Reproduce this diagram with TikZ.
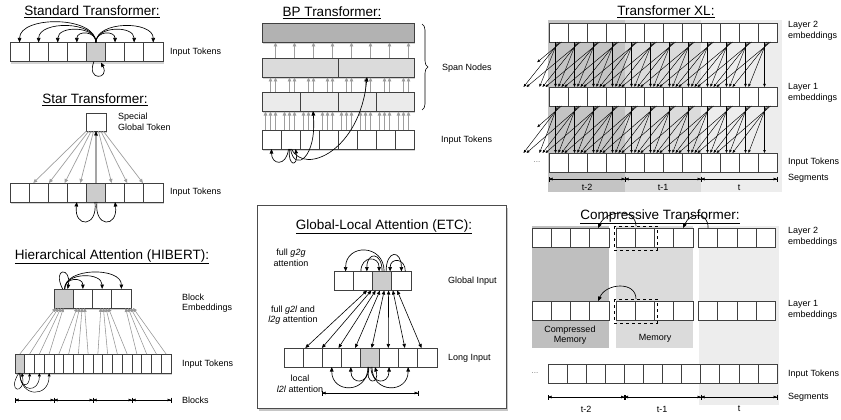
\documentclass[tikz,border=0pt]{standalone}
\usepackage{fontspec}
\setmainfont{Liberation Sans}
\usetikzlibrary{shadows,arrows.meta,decorations.pathreplacing,calc}
\tikzset{
 cell/.style={draw=black!75, line width=0.6pt, fill=white, minimum width=#1, minimum height=19pt, inner sep=0pt, outer sep=0pt},
 cell/.default=19.1pt,
 ttl/.style={font=\fontsize{13.5}{16}\selectfont, inner sep=0pt},
 lbl/.style={font=\fontsize{9}{10.5}\selectfont, align=left, anchor=west, inner sep=0pt},
 ctr/.style={font=\fontsize{9}{10.5}\selectfont, align=center, inner sep=0pt},
 att/.style={-{Triangle[length=4.5pt,width=3.6pt]}, line width=0.65pt, black},
 satt/.style={-{Triangle[length=3.4pt,width=2.8pt]}, line width=0.5pt, black},
 xlarr/.style={-{Triangle[length=3pt,width=2.4pt]}, line width=0.45pt, black},
 gatt/.style={-{Triangle[length=4pt,width=3.6pt]}, line width=0.7pt, black!38},
 tgatt/.style={-{Triangle[length=3.8pt,width=3.6pt]}, line width=0.55pt, black!42},
 bidir/.style={{Triangle[length=4pt,width=3.4pt]}-{Triangle[length=4pt,width=3.4pt]}, line width=0.6pt, black},
 segbar/.style={{Bar[width=5pt]}-{Bar[width=5pt]}, line width=0.5pt},
 segtip/.style={{Triangle[length=3.5pt,width=2.6pt]}-{Triangle[length=3.5pt,width=2.6pt]}, line width=0.5pt},
 shad/.style={drop shadow={shadow xshift=0.6pt, shadow yshift=-2pt, opacity=0.35}},
 dots/.style={font=\fontsize{8}{9}\selectfont, text=black!55, inner sep=0pt},
}
\begin{document}
\begin{tikzpicture}[x=1pt,y=-1pt]
\useasboundingbox (0,0) rectangle (841,420);

% ================= Standard Transformer =================
\node[ttl] (tstd) at (92,12) {\underline{Standard Transformer:}};
\path[fill=white,shad] (10,42) rectangle (163,62);
\foreach \i in {0,...,7} {
  \ifnum\i=4 \def\fc{black!20}\else\def\fc{white}\fi
  \node[cell, fill=\fc] (s\i) at ({10+19.1*(\i+0.5)},52) {};
}
\node[lbl] (lstd) at (170,52) {Input Tokens};
\foreach \k/\h in {0/27,1/22,2/17,3/12,5/12,6/17,7/22}
  \draw[att] (s4.north) .. controls ($(s4.north)+(0,-\h)$) and ($(s\k.north)+(0,-\h)$) .. (s\k.north);
\draw[att] ($(s4.south)+(-2,0)$) .. controls ($(s4.south)+(-10,20)$) and ($(s4.south)+(14,18)$) .. ($(s4.south)+(5,1)$);

% ================= Star Transformer =================
\node[ttl] (tstar) at (95,100) {\underline{Star Transformer:}};
\node[cell, minimum width=20pt, minimum height=18pt, shad] (sg) at (96,122) {};
\node[lbl] (lsg) at (118,122) {Special\\Global Token};
\path[fill=white,shad] (10,183) rectangle (163,202);
\foreach \i in {0,...,7} {
  \ifnum\i=4 \def\fc{black!20}\else\def\fc{white}\fi
  \node[cell, fill=\fc] (r\i) at ({10+19.1*(\i+0.5)},192.5) {};
}
\node[lbl] (lstar) at (170,192.5) {Input Tokens};
\foreach \k in {0,1,2,3,5,6,7}
  \draw[gatt] ($(sg.south)+({(\k-4)*2.4},0)$) -- ($(r\k.north)+({(4-\k)*19.1*0.18},0)$);
\draw[att] (r4.north) -- (sg.south);
\draw[att] ($(r4.south)+(-1,0)$) .. controls ($(r4.south)+(2,26)$) and ($(r3.south)+(-3,26)$) .. (r3.south);
\draw[att] ($(r4.south)+(1,0)$) .. controls ($(r4.south)+(-2,26)$) and ($(r5.south)+(3,26)$) .. (r5.south);

% ================= HIBERT =================
\node[ttl] (thib) at (112,257) {\underline{Hierarchical Attention (HIBERT):}};
\path[fill=white,shad] (54,289) rectangle (131,308);
\foreach \i in {0,...,3} {
  \ifnum\i=0 \def\fc{black!20}\else\def\fc{white}\fi
  \node[cell=19.25pt, fill=\fc] (hb\i) at ({54+19.25*(\i+0.5)},298.5) {};
}
\node[lbl] (lhb) at (182,303) {Block\\Embeddings};
\path[fill=white,shad] (15,354) rectangle (171,373);
\foreach \i in {0,...,15} {
  \ifnum\i=0 \def\fc{black!20}\else\def\fc{white}\fi
  \node[cell=9.75pt, fill=\fc] (ht\i) at ({15+9.75*(\i+0.5)},363.5) {};
}
\node[lbl] (lht) at (182,364) {Input Tokens};
\foreach \b/\s in {0/-4,1/-2,2/2.5,3/8}
  \foreach \t in {0,...,3} {
    \pgfmathtruncatemacro\ii{4*\b+\t}
    \draw[tgatt] (ht\ii.north) -- ($(hb\b.south)+({\s+(\t-1.5)*2.5},0)$);
  }
\foreach \k/\h in {1/12,2/17,3/22}
  \draw[att] ($(hb0.north)+(1,0)$) .. controls ($(hb0.north)+(1,-\h)$) and ($(hb\k.north)+(0,-\h)$) .. (hb\k.north);
\draw[att] ($(hb0.north)+(-1,0)$) .. controls ($(hb0.north)+(-12,-22)$) and ($(hb0.north)+(8,-22)$) .. ($(hb0.north)+(4,0)$);
\foreach \k/\h in {1/15,2/20,3/25}
  \draw[satt] (ht0.south) .. controls ($(ht0.south)+(0,\h)$) and ($(ht\k.south)+(0,\h)$) .. (ht\k.south);
\draw[satt] ($(ht0.south)+(-1,0)$) .. controls ($(ht0.south)+(-14,20)$) and ($(ht0.south)+(6,22)$) .. ($(ht0.south)+(2,0)$);
\foreach \b in {0,...,4} \coordinate (hq\b) at ({15+39*\b},400);
\foreach \b [evaluate=\b as \c using int(\b+1)] in {0,...,3} {
  \draw[segbar] (hq\b) -- (hq\c);
  \draw[segtip] (hq\b) -- (hq\c);
}
\node[lbl] (lblocks) at (182,400) {Blocks};

% ================= BP Transformer =================
\node[ttl] (tbp) at (332,13) {\underline{BP Transformer:}};
\path[fill=white,shad] (262,23) rectangle (414,42);
\path[fill=white,shad] (262,58) rectangle (414,77);
\path[fill=white,shad] (262,92) rectangle (414,111);
\path[fill=white,shad] (262,130) rectangle (414,149);
\node[cell=152pt, fill=black!30] (bpA) at (338,32.5) {};
\foreach \i in {0,1} \node[cell=76pt, fill=black!14] (bpB\i) at ({262+76*(\i+0.5)},67.5) {};
\foreach \i in {0,...,3} \node[cell=38pt, fill=black!8] (bpC\i) at ({262+38*(\i+0.5)},101.5) {};
\foreach \i in {0,...,7} \node[cell=19pt] (bpI\i) at ({262+19*(\i+0.5)},139.5) {};
\foreach \i in {0,...,7} {
  \foreach \o in {-6,-1,4} \draw[gatt] ($(bpI\i.north)+(\o,0)$) -- ($(bpI\i.north)+(\o,-18.5)$);
  \foreach \o in {-1,4} \draw[gatt] ($(bpI\i.north)+(\o,-38)$) -- ($(bpI\i.north)+(\o,-52.5)$);
  \draw[gatt] ($(bpI\i.north)+(4,-72)$) -- ($(bpI\i.north)+(4,-87.5)$);
}
\draw[decorate, decoration={brace, amplitude=6pt}, line width=0.6pt] (422,24) -- (422,110);
\node[lbl] (lspan) at (442,68) {Span Nodes};
\node[lbl] (lbpin) at (441,140) {Input Tokens};
\draw[att] ($(bpI1.south)+(-2,0)$) .. controls ($(bpI1.south)+(-4,18)$) and ($(bpI0.south)+(0,16)$) .. (bpI0.south);
\draw[att] ($(bpI1.south)+(-1,0)$) .. controls ($(bpI1.south)+(-3,18)$) and ($(bpI1.south)+(8,18)$) .. ($(bpI1.south)+(5,0)$);
\draw[att] (bpI1.south) .. controls ($(bpI1.south)+(4,24)$) and (317,158) .. ($(bpC1.south)+(-6,0)$);
\draw[att] ($(bpI1.south)+(1,0)$) .. controls (305,176) and (360,150) .. ($(bpB1.south)+(-9,0)$);

% ================= ETC =================
\path[fill=white, draw=black!70, line width=0.6pt, drop shadow={shadow xshift=1.5pt,shadow yshift=-2.5pt,opacity=0.45}] (257,205) rectangle (506,408);
\node[ttl] (tetc) at (384,227) {\underline{Global-Local Attention (ETC):}};
\node[ctr] (lg2g) at (291,258) {full \textit{g2g}\\attention};
\foreach \i in {0,...,3} {
  \ifnum\i=2 \def\fc{black!20}\else\def\fc{white}\fi
  \node[cell=19.25pt, fill=\fc] (eg\i) at ({334+19.25*(\i+0.5)},281) {};
}
\node[lbl] (lgi) at (448,281) {Global Input};
\node[ctr] (lg2l) at (293,315) {full \textit{g2l} and\\\textit{l2g} attention};
\foreach \i in {0,...,7} {
  \ifnum\i=4 \def\fc{black!20}\else\def\fc{white}\fi
  \node[cell, fill=\fc] (el\i) at ({284+19.1*(\i+0.5)},357.5) {};
}
\node[lbl] (lli) at (448,358) {Long Input};
\foreach \i in {0,...,7}
  \draw[bidir] ($(eg2.south)+({(\i-3.5)*4.3},0)$) -- ($(el\i.north)+({(3.5-\i)*2.5+3},0)$);
\draw[att] ($(eg2.north)+(2,0)$) .. controls ($(eg2.north)+(2,-28)$) and ($(eg0.north)+(2,-28)$) .. ($(eg0.north)+(2,0)$);
\draw[att] ($(eg2.north)+(0,0)$) .. controls ($(eg2.north)+(0,-20)$) and ($(eg1.north)+(4,-20)$) .. ($(eg1.north)+(4,0)$);
\draw[att] ($(eg1.north)+(-2,0)$) .. controls ($(eg1.north)+(-2,-16)$) and ($(eg2.north)+(-3,-16)$) .. ($(eg2.north)+(-3,0)$);
\draw[att] ($(eg2.north)+(4,0)$) .. controls ($(eg2.north)+(4,-22)$) and ($(eg3.north)+(0,-22)$) .. (eg3.north);
\draw[att] ($(eg3.north)+(4,0)$) .. controls ($(eg3.north)+(4,-14)$) and ($(eg2.north)+(8,-14)$) .. ($(eg2.north)+(8,0)$);
\foreach \k/\h/\s in {2/27/-2,3/18/-1,5/18/1,6/27/2}
  \draw[att] ($(el4.south)+(\s,0)$) .. controls ($(el4.south)+(\s,\h)$) and ($(el\k.south)+(0,\h)$) .. (el\k.south);
\draw[att] ($(el4.south)+(-1,0)$) .. controls ($(el4.south)+(-6,18)$) and ($(el4.south)+(10,18)$) .. ($(el4.south)+(5,0)$);
\node[ctr] (ll2l) at (300,384) {local\\\textit{l2l} attention};
\coordinate (er0) at (322,393);
\coordinate (er1) at (418,393);
\draw[segbar] (er0) -- (er1);
\draw[segtip] (er0) -- (er1);

% ================= Transformer XL =================
\fill[black!23] (548,20) rectangle (625,192);
\fill[black!14] (625,20) rectangle (701,192);
\fill[black!7] (701,20) rectangle (782,192);
\node[ttl] (txl) at (666,12) {\underline{Transformer XL:}};
\foreach \i in {0,...,11} {
  \node[cell=19pt] (x2-\i) at ({549+19*(\i+0.5)},32.5) {};
  \node[cell=19pt] (x1-\i) at ({549+19*(\i+0.5)},96.5) {};
  \node[cell=19pt] (xi-\i) at ({549+19*(\i+0.5)},162.5) {};
}
\foreach \j in {0,...,11}
  \foreach \d in {0,...,3} {
    \pgfmathsetmacro\fr{(\j==0 && \d==3) ? 0.45 : 1}
    \coordinate (srA) at ($(x2-\j.south)+({2*\d-3},0)$);
    \coordinate (srB) at ($(x1-\j.south)+({2*\d-3},0)$);
    \coordinate (tgA) at ($(x1-0.north)+({19*(\j-\d)+3*\d-3},0)$);
    \coordinate (tgB) at ($(xi-0.north)+({19*(\j-\d)+3*\d-3},0)$);
    \draw[xlarr] (srA) -- ($(srA)!\fr!(tgA)$);
    \draw[xlarr] (srB) -- ($(srB)!\fr!(tgB)$);
  }
\node[dots] (xdots) at (537,162) {...};
\node[lbl] (lx2) at (788,31) {Layer 2\\embeddings};
\node[lbl] (lx1) at (788,93) {Layer 1\\embeddings};
\node[lbl] (lxi) at (788,162) {Input Tokens};
\node[lbl] (lxs) at (788,178) {Segments};
\foreach \b/\x in {0/549,1/625,2/701,3/777} \coordinate (xs\b) at (\x,179);
\foreach \b [evaluate=\b as \c using int(\b+1)] in {0,1,2} {
  \draw[segbar] (xs\b) -- (xs\c);
  \draw[segtip] (xs\b) -- (xs\c);
}
\node[ctr] (xt0) at (587,187.5) {t-2};
\node[ctr] (xt1) at (663,187.5) {t-1};
\node[ctr] (xt2) at (739,187.5) {t};

% ================= Compressive Transformer =================
\fill[black!25] (532,226) rectangle (609,348);
\fill[black!14] (616,226) rectangle (693,348);
\fill[black!7] (699,226) rectangle (779,405);
\node[ttl] (tcomp) at (660,217) {\underline{Compressive Transformer:}};
\foreach \i in {0,...,3} {
  \node[cell=19.2pt] (ca2-\i) at ({532+19.2*(\i+0.5)},237.5) {};
  \node[cell=19.2pt] (cb2-\i) at ({616+19.2*(\i+0.5)},237.5) {};
  \node[cell=19.2pt] (cc2-\i) at ({698.5+19.2*(\i+0.5)},237.5) {};
  \node[cell=19.2pt] (ca1-\i) at ({532+19.2*(\i+0.5)},310.5) {};
  \node[cell=19.2pt] (cb1-\i) at ({616+19.2*(\i+0.5)},310.5) {};
  \node[cell=19.2pt] (cc1-\i) at ({698.5+19.2*(\i+0.5)},310.5) {};
}
\draw[dashed, line width=0.8pt] (614,226) rectangle (657,250);
\draw[dashed, line width=0.8pt] (614,299) rectangle (657,323);
\coordinate (cd2) at (636,226);
\coordinate (cd1) at (636,299);
\draw[att] (cd2) .. controls (636,208) and (606,210) .. ($(ca2-3.north)+(-1,0)$);
\draw[att] (cc2-0.north) .. controls ($(cc2-0.north)+(0,-17)$) and (690,212) .. ($(cb2-3.north)+(0,0)$);
\draw[att] (cd1) .. controls (636,281) and (606,283) .. ($(ca1-3.north)+(-1,0)$);
\node[ctr] (lcm) at (570,335) {Compressed\\Memory};
\node[ctr] (lmem) at (655,338) {Memory};
\foreach \i in {0,...,11} \node[cell=19.08pt] (ci-\i) at ({548+19.08*(\i+0.5)},374) {};
\node[dots] (cdots) at (535,373) {...};
\node[lbl] (lc2) at (788,237) {Layer 2\\embeddings};
\node[lbl] (lc1) at (788,310) {Layer 1\\embeddings};
\node[lbl] (lci) at (788,374) {Input Tokens};
\node[lbl] (lcs) at (788,397) {Segments};
\foreach \b/\x in {0/548,1/624.5,2/701,3/777} \coordinate (cs\b) at (\x,397);
\foreach \b [evaluate=\b as \c using int(\b+1)] in {0,1,2} {
  \draw[segbar] (cs\b) -- (cs\c);
  \draw[segtip] (cs\b) -- (cs\c);
}
\node[ctr] (ct0) at (586,409) {t-2};
\node[ctr] (ct1) at (662,409) {t-1};
\node[ctr] (ct2) at (739,409) {t};
\end{tikzpicture}
\end{document}
